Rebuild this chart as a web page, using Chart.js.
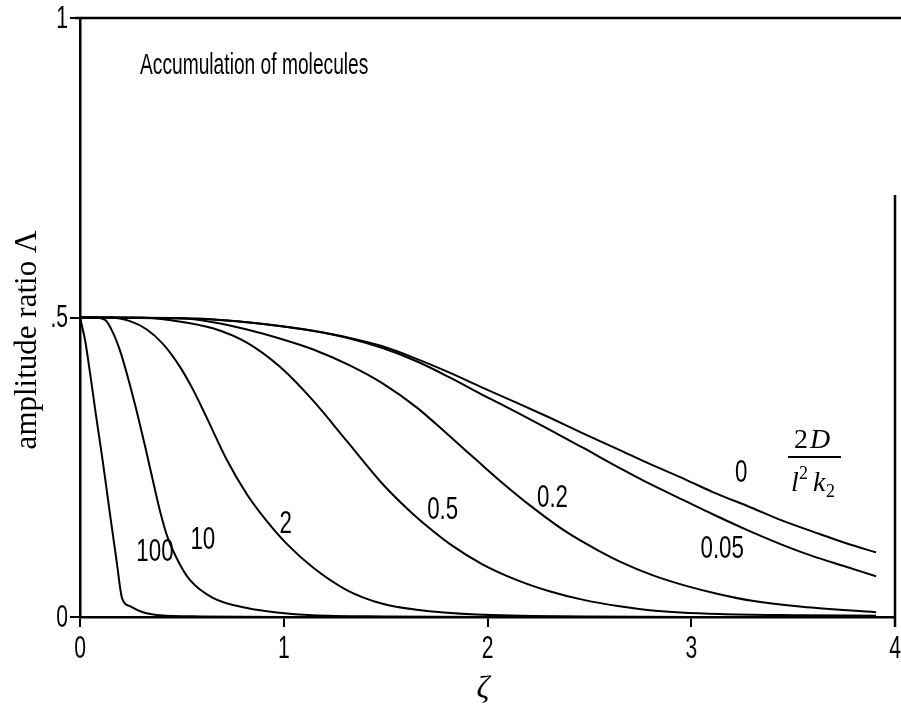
<!DOCTYPE html>
<html>
<head>
<meta charset="utf-8">
<title>Accumulation of molecules</title>
<script src="https://cdn.jsdelivr.net/npm/chart.js@4.4.1/dist/chart.umd.min.js"></script>
<style>
  html, body { margin: 0; padding: 0; background: #fff; }
</style>
</head>
<body>
<canvas id="amplitudeChart" width="901" height="719"></canvas>
<script>
// curve parameter 2D / (l^2 k2)
const curveNames = ["0", "0.05", "0.2", "0.5", "2", "10", "100"];

const zeta0 = [0, 0.588, 0.819, 0.98, 1.142, 1.324, 1.485, 1.652, 1.814, 1.975, 2.142, 2.304, 2.466, 2.647, 2.78, 2.975, 3.103, 3.299, 3.431, 3.627, 3.76, 3.907];
const amp0  = [0.5, 0.498, 0.492, 0.486, 0.478, 0.466, 0.452, 0.431, 0.408, 0.383, 0.358, 0.333, 0.307, 0.279, 0.258, 0.229, 0.209, 0.182, 0.163, 0.139, 0.123, 0.108];

const zeta005 = [0, 0.588, 0.819, 0.98, 1.142, 1.324, 1.485, 1.652, 1.814, 1.975, 2.142, 2.304, 2.466, 2.647, 2.78, 2.975, 3.103, 3.27, 3.466, 3.593, 3.76, 3.907];
const amp005  = [0.5, 0.498, 0.492, 0.486, 0.478, 0.465, 0.449, 0.427, 0.4, 0.371, 0.342, 0.313, 0.283, 0.249, 0.225, 0.193, 0.172, 0.146, 0.118, 0.102, 0.084, 0.068];

const zeta02 = [0, 0.49, 0.652, 0.819, 0.98, 1.142, 1.324, 1.485, 1.652, 1.814, 1.946, 2.059, 2.221, 2.387, 2.549, 2.647, 2.809, 2.975, 3.137, 3.299, 3.544, 3.907];
const amp02  = [0.5, 0.499, 0.492, 0.48, 0.465, 0.447, 0.42, 0.39, 0.35, 0.302, 0.262, 0.228, 0.183, 0.142, 0.11, 0.093, 0.07, 0.052, 0.038, 0.027, 0.017, 0.008];

const zeta05 = [0, 0.3, 0.456, 0.652, 0.819, 0.98, 1.142, 1.309, 1.485, 1.618, 1.716, 1.814, 1.975, 2.142, 2.304, 2.466, 2.647, 2.809, 3.137, 3.529, 3.907];
const amp05  = [0.5, 0.5, 0.495, 0.482, 0.458, 0.418, 0.362, 0.294, 0.222, 0.177, 0.148, 0.122, 0.088, 0.062, 0.043, 0.029, 0.018, 0.011, 0.005, 0.003, 0.002];

const zeta2 = [0, 0.147, 0.245, 0.328, 0.407, 0.49, 0.554, 0.623, 0.721, 0.819, 0.917, 1.015, 1.142, 1.309, 1.485, 1.652, 1.946, 2.5, 3.0, 3.907];
const amp2  = [0.5, 0.5, 0.494, 0.48, 0.456, 0.418, 0.38, 0.332, 0.262, 0.205, 0.16, 0.122, 0.083, 0.045, 0.022, 0.012, 0.004, 0.001, 0, 0];

const zeta10 = [0, 0.06, 0.123, 0.157, 0.196, 0.235, 0.275, 0.314, 0.353, 0.392, 0.431, 0.49, 0.539, 0.652, 0.819, 0.98, 1.142, 1.5, 2.0, 3.0, 3.907];
const amp10  = [0.5, 0.5, 0.496, 0.478, 0.445, 0.4, 0.348, 0.293, 0.235, 0.178, 0.132, 0.088, 0.062, 0.032, 0.015, 0.007, 0.003, 0.001, 0, 0, 0];

const zeta100 = [0, 0.025, 0.049, 0.078, 0.113, 0.147, 0.181, 0.206, 0.245, 0.309, 0.392, 0.6, 1.0, 2.0, 3.0, 3.907];
const amp100  = [0.5, 0.462, 0.408, 0.338, 0.257, 0.172, 0.09, 0.032, 0.018, 0.008, 0.003, 0.001, 0, 0, 0, 0];

const xTicks = [0, 1, 2, 3, 4];
const yTicks = [0, 0.5, 1];
const yTickLabels = ["0", ".5", "1"];

// where each curve's parameter value is written, in (zeta, amplitude)
const labelSpots = {
  "0":    [3.245, 0.24],
  "0.05": [3.152, 0.112],
  "0.2":  [2.319, 0.198],
  "0.5":  [1.78, 0.178],
  "2":    [1.01, 0.155],
  "10":   [0.603, 0.128],
  "100":  [0.368, 0.107]
};

const curves = [
  [zeta0, amp0], [zeta005, amp005], [zeta02, amp02], [zeta05, amp05],
  [zeta2, amp2], [zeta10, amp10], [zeta100, amp100]
];

function toPoints(xs, ys) {
  return xs.map((x, i) => ({ x: x, y: ys[i] }));
}

const SANS = "'Liberation Sans', Arial, sans-serif";
const SERIF = "'Liberation Serif', 'Times New Roman', serif";

function narrowText(ctx, text, x, y, size, sx, align) {
  ctx.save();
  ctx.font = size + "px " + SANS;
  ctx.translate(x, y);
  ctx.scale(sx, 1);
  ctx.textAlign = align || "center";
  ctx.textBaseline = "middle";
  ctx.fillText(text, 0, 0);
  ctx.restore();
}

const decorations = {
  id: "decorations",
  afterDraw(chart) {
    const ctx = chart.ctx;
    const xs = chart.scales.x, ys = chart.scales.y;
    const area = chart.chartArea;
    ctx.save();
    ctx.fillStyle = "#000";
    ctx.strokeStyle = "#000";

    // frame: top edge and the right edge
    ctx.lineWidth = 2.5;
    ctx.beginPath();
    ctx.moveTo(area.left - 5, area.top);
    ctx.lineTo(901, area.top);
    ctx.moveTo(area.right, 195);
    ctx.lineTo(area.right, area.bottom + 10);
    ctx.stroke();

    // tick labels
    xTicks.forEach(v => narrowText(ctx, String(v), xs.getPixelForValue(v), area.bottom + 32, 32, 0.66));
    yTicks.forEach((v, i) => narrowText(ctx, yTickLabels[i], area.left - 12, ys.getPixelForValue(v) + 1, 32, 0.66, "right"));

    // heading
    narrowText(ctx, "Accumulation of molecules", 140, 66, 30, 0.64, "left");

    // curve labels
    curveNames.forEach(name => {
      const p = labelSpots[name];
      narrowText(ctx, name, xs.getPixelForValue(p[0]), ys.getPixelForValue(p[1]), 31, 0.72);
    });

    // axis titles
    ctx.save();
    ctx.translate(28, 340);
    ctx.rotate(-Math.PI / 2);
    ctx.font = "31px " + SERIF;
    ctx.textAlign = "center";
    ctx.textBaseline = "middle";
    ctx.fillText("amplitude ratio \u039B", 0, 0);
    ctx.restore();

    ctx.font = "italic 32px " + SERIF;
    ctx.textAlign = "center";
    ctx.textBaseline = "middle";
    ctx.fillText("\u03B6", 483, 690);

    // parameter fraction 2D / (l^2 k2)
    const fx = 813;
    ctx.textBaseline = "alphabetic";
    ctx.textAlign = "left";
    ctx.font = "28px " + SERIF;
    ctx.fillText("2", fx - 19, 448);
    ctx.font = "italic 28px " + SERIF;
    ctx.fillText("D", fx - 3, 448);
    ctx.lineWidth = 2;
    ctx.beginPath();
    ctx.moveTo(fx - 25, 457);
    ctx.lineTo(fx + 28, 457);
    ctx.stroke();
    ctx.font = "italic 28px " + SERIF;
    ctx.fillText("l", fx - 22, 491);
    ctx.font = "18px " + SERIF;
    ctx.fillText("2", fx - 14, 479);
    ctx.font = "italic 28px " + SERIF;
    ctx.fillText("k", fx, 491);
    ctx.font = "18px " + SERIF;
    ctx.fillText("2", fx + 13, 497);

    ctx.restore();
  }
};

new Chart(document.getElementById("amplitudeChart"), {
  type: "scatter",
  data: {
    datasets: curves.map((c, i) => ({
      label: curveNames[i],
      data: toPoints(c[0], c[1]),
      showLine: true,
      borderColor: "#000",
      borderWidth: 2,
      pointRadius: 0,
      cubicInterpolationMode: "monotone"
    }))
  },
  options: {
    responsive: false,
    animation: false,
    layout: { padding: { top: 18, right: 6, left: 0, bottom: 0 } },
    plugins: {
      legend: { display: false },
      tooltip: { enabled: false }
    },
    scales: {
      x: {
        type: "linear",
        min: 0,
        max: 4,
        afterBuildTicks: s => { s.ticks = xTicks.map(v => ({ value: v })); },
        afterFit: s => { s.height = 102; },
        ticks: { display: false },
        grid: { drawOnChartArea: false, drawTicks: true, tickLength: 10, color: "#000", lineWidth: 2 },
        border: { display: true, color: "#000", width: 2.5 }
      },
      y: {
        type: "linear",
        min: 0,
        max: 1,
        afterBuildTicks: s => { s.ticks = yTicks.map(v => ({ value: v })); },
        afterFit: s => { s.width = 80; },
        ticks: { display: false },
        grid: { drawOnChartArea: false, drawTicks: true, tickLength: 10, color: "#000", lineWidth: 2 },
        border: { display: true, color: "#000", width: 2.5 }
      }
    }
  },
  plugins: [decorations]
});
</script>
</body>
</html>
